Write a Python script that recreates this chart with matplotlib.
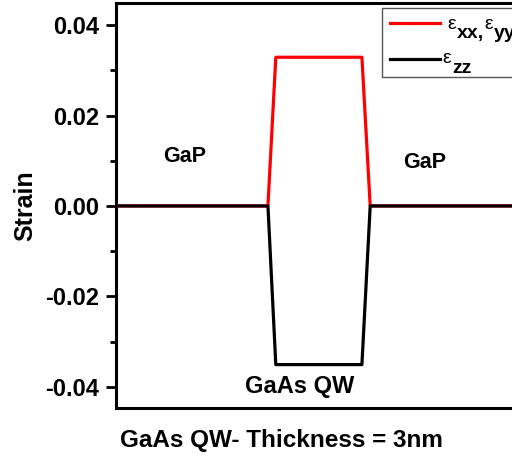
import matplotlib
matplotlib.use("Agg")
import matplotlib.pyplot as plt
from matplotlib.ticker import MultipleLocator

# position across the structure (arbitrary units) and strain values
pos = [0, 36.7, 38.6, 59.4, 61.4, 100]
eps_xx = [0, 0, 0.0329, 0.0329, 0, 0]
eps_zz = [0, 0, -0.0351, -0.0351, 0, 0]

plt.rcParams['font.family'] = ['Liberation Sans', 'DejaVu Sans']
plt.rcParams['font.weight'] = 'bold'

W, H = 512, 457
fig = plt.figure(figsize=(W / 100, H / 100), dpi=100)
ax = fig.add_axes([116 / W, 1 - 408 / H, (530 - 116) / W, (408 - 3) / H])

ax.plot(pos, eps_xx, color='red', lw=2.3, label=' ')
ax.plot(pos, eps_zz, color='black', lw=2.3, label=' ')

ax.set_xlim(0, 100)
ax.set_ylim(-0.0447, 0.0449)
ax.set_xticks([])
ax.yaxis.set_minor_locator(MultipleLocator(0.01))
ax.set_yticks([-0.04, -0.02, 0.0, 0.02, 0.04])
ax.set_yticklabels(['-0.04', '-0.02', '0.00', '0.02', '0.04'])
ax.tick_params(axis='y', which='major', length=7, width=2, labelsize=17, pad=5)
ax.tick_params(axis='y', which='minor', length=4, width=2)
for s in ax.spines.values():
    s.set_linewidth(2.2)

ax.set_ylabel('Strain', fontsize=18, fontweight='bold', labelpad=6)
fig.text(120 / W, 1 - 441 / H, 'GaAs QW- Thickness = 3nm', fontsize=17.5,
         fontweight='bold', va='center', ha='left')


def px(x, y):
    return x / W, 1 - y / H


fig.text(*px(185, 156), 'GaP', fontsize=15.5, fontweight='bold', ha='center', va='center')
fig.text(*px(425, 162), 'GaP', fontsize=15.5, fontweight='bold', ha='center', va='center')
fig.text(*px(300, 387), 'GaAs QW', fontsize=17, fontweight='bold', ha='center', va='center')

leg = ax.legend(loc='upper left', bbox_to_anchor=px(382, 8),
                bbox_transform=fig.transFigure, borderaxespad=0, fancybox=False,
                fontsize=14, handlelength=2.6, handletextpad=0.3, labelspacing=0.95,
                borderpad=0.4, framealpha=1)
leg.get_frame().set_edgecolor('#555555')
leg.get_frame().set_linewidth(1)
for t in leg.get_texts():
    t.set_text('\u2007' * 8)

# legend labels: small epsilon with large bold subscripts
fig.text(*px(447, 29), 'ε', fontsize=14, fontweight='normal', va='baseline')
fig.text(*px(457, 38), 'xx,', fontsize=14, fontweight='bold', va='baseline')
fig.text(*px(484, 29), 'ε', fontsize=14, fontweight='normal', va='baseline')
fig.text(*px(494, 38), 'yy', fontsize=14, fontweight='bold', va='baseline')
fig.text(*px(442, 63), 'ε', fontsize=14, fontweight='normal', va='baseline')
fig.text(*px(452, 73), 'zz', fontsize=14, fontweight='bold', va='baseline')

fig.savefig('out.png', dpi=100)
